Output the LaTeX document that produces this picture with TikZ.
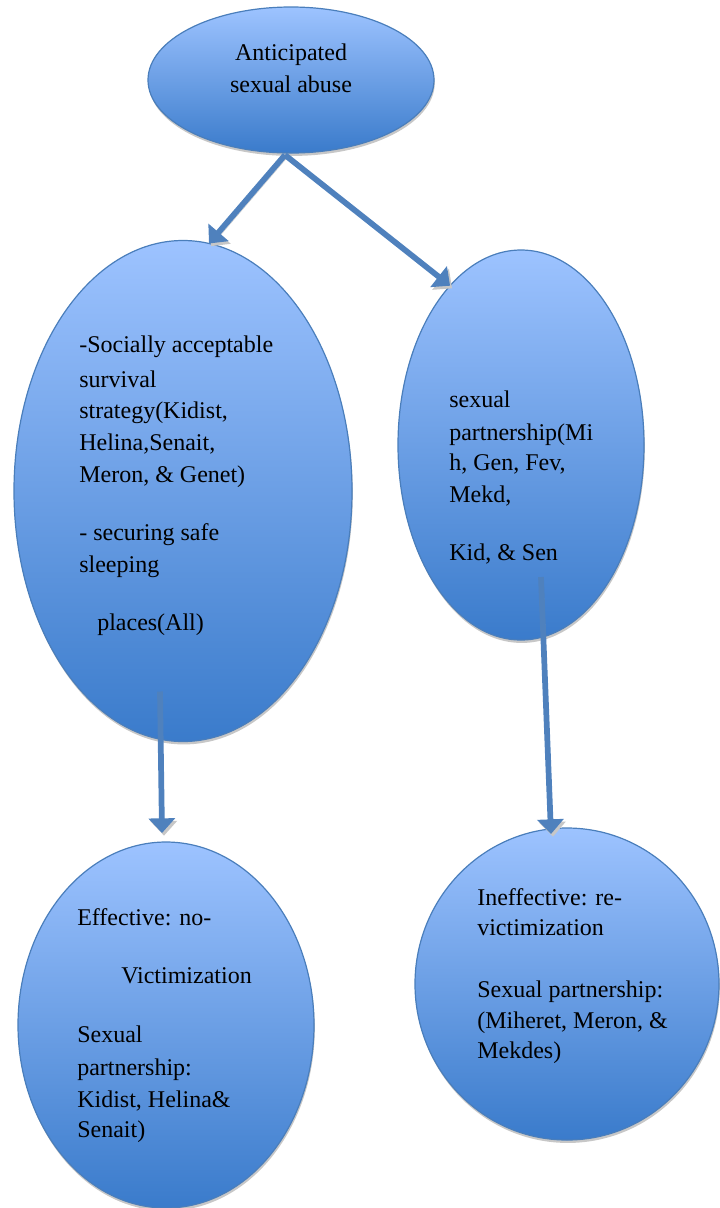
\documentclass[tikz,border=0pt]{standalone}
\usepackage{fontspec}
\setmainfont{Liberation Serif}
\usetikzlibrary{shapes.geometric,arrows.meta,shadows}

\definecolor{blobtop}{RGB}{157,195,255}
\definecolor{blobbot}{RGB}{58,123,203}
\definecolor{blobline}{RGB}{74,126,187}
\definecolor{flowblue}{RGB}{79,129,189}

\begin{document}
\begin{tikzpicture}[x=0.75pt, y=-0.75pt,
		blob/.style={ellipse, draw=blobline, line width=0.9pt, top color=blobtop, bottom color=blobbot,
			inner sep=0pt, outer sep=0pt,
			drop shadow={shadow xshift=0.6pt, shadow yshift=-2.2pt, fill=black!22, opacity=1}},
		flow/.style={draw=flowblue, line width=4.3pt, -{Triangle[width=19.5pt,length=11pt]},
			preaction={draw=black!22, transform canvas={shift={(1.5pt,-2pt)}}}},
		lbl/.style={anchor=base west, inner sep=0pt, font=\fontsize{18}{22}\selectfont}]
	\useasboundingbox (0,0) rectangle (719,1208);
	
	% ellipses
	\node[blob, minimum width=214.5pt, minimum height=109.5pt] (abuse) at (291,80) {};
	\node[blob, minimum width=253.5pt, minimum height=375.75pt] (strategy) at (183,491) {};
	\node[blob, minimum width=184.5pt, minimum height=292.5pt] (partner) at (521,445) {};
	\node[blob, minimum width=222pt, minimum height=274.5pt] (effective) at (166,1025) {};
	\node[blob, minimum width=228pt, minimum height=234pt] (ineffective) at (567,984) {};
	
	% texts, one line each
	\foreach \y/\t [count=\i] in {60/Anticipated, 92/sexual abuse} {
		\node[lbl, anchor=base] (abuse-\i) at (291,\y) {\t};
	}
	\foreach \x/\y/\t [count=\i] in {79/352/{-Socially acceptable}, 79/387/survival, 79/418/{strategy(Kidist,},
		79/450/{Helina,Senait,}, 79/482/{Meron, \& Genet)}, 79/540/{- securing safe}, 79/572/sleeping, 97/630/{places(All)}} {
		\node[lbl] (strategy-\i) at (\x,\y) {\t};
	}
	\foreach \y/\t [count=\i] in {407/sexual, 440/{partnership(Mi}, 470/{h, Gen, Fev,}, 502/{Mekd,}, 560/{Kid, \& Sen}} {
		\node[lbl] (partner-\i) at (449,\y) {\t};
	}
	\foreach \x/\y/\t [count=\i] in {77/925/{Effective: no-}, 121/983/Victimization, 77/1042/Sexual, 77/1075/{partnership:},
		77/1107/{Kidist, Helina\&}, 77/1137/{Senait)}} {
		\node[lbl] (effective-\i) at (\x,\y) {\t};
	}
	\foreach \y/\t [count=\i] in {905/{Ineffective: re-}, 935/victimization, 997/{Sexual partnership:},
		1028/{(Miheret, Meron, \&}, 1058/{Mekdes)}} {
		\node[lbl] (ineffective-\i) at (477,\y) {\t};
	}
	
	% arrows
	\coordinate (apex) at ([xshift=-4.5pt,yshift=-1.5pt]abuse.south);
	\draw[flow] (apex) -- (strategy.84);
	\draw[flow] (apex) -- (partner.114);
	\draw[flow] ([xshift=-17.25pt,yshift=37.5pt]strategy.south) -- ([xshift=-3pt,yshift=6.75pt]effective.north);
	\draw[flow] ([xshift=15pt,yshift=47.25pt]partner.south) -- ([xshift=-12pt,yshift=-4.5pt]ineffective.north);
\end{tikzpicture}
\end{document}
